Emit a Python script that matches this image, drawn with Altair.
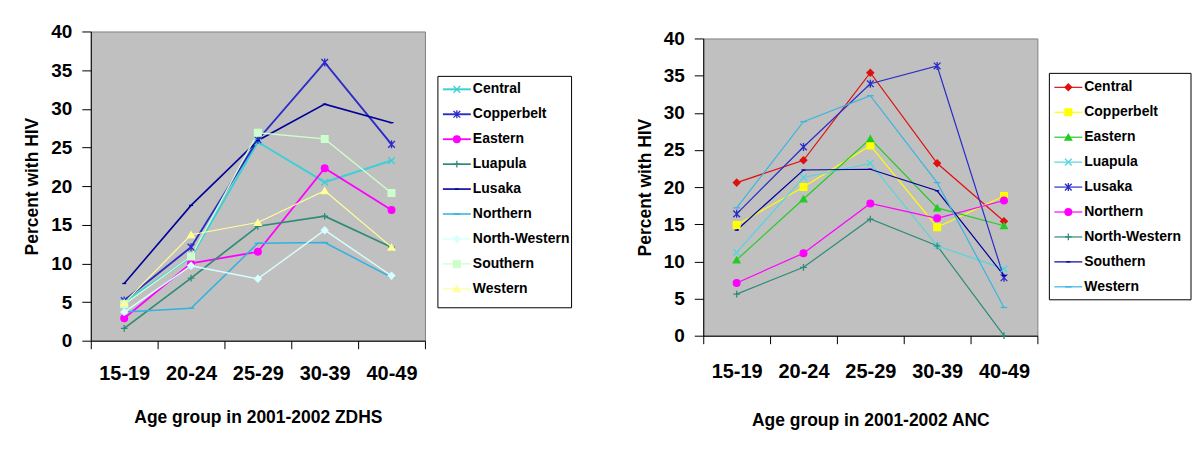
import altair as alt
import pandas as pd

FONT = "Liberation Sans"

ages = ["15-19", "20-24", "25-29", "30-39", "40-49"]
regions = ["Central", "Copperbelt", "Eastern", "Luapula", "Lusaka",
           "Northern", "North-Western", "Southern", "Western"]

# 2001-2002 ZDHS (left panel)
zdhs_central = [5.0, 10.8, 25.7, 20.5, 23.3]
zdhs_copperbelt = [5.2, 12.1, 26.0, 36.0, 25.4]
zdhs_eastern = [2.9, 10.0, 11.5, 22.3, 16.9]
zdhs_luapula = [1.6, 8.1, 14.8, 16.1, 12.1]
zdhs_lusaka = [7.4, 17.5, 25.9, 30.6, 28.2]
zdhs_northern = [3.7, 4.2, 12.6, 12.7, 8.2]
zdhs_northwestern = [3.7, 9.7, 8.0, 14.3, 8.4]
zdhs_southern = [4.7, 10.9, 26.9, 26.1, 19.1]
zdhs_western = [4.9, 13.7, 15.3, 19.4, 12.1]

# 2001-2002 ANC (right panel)
anc_central = [20.6, 23.6, 35.4, 23.2, 15.4]
anc_copperbelt = [14.9, 20.0, 25.6, 14.6, 18.8]
anc_eastern = [10.2, 18.4, 26.5, 17.2, 14.8]
anc_luapula = [11.2, 21.3, 23.2, 12.1, 9.0]
anc_lusaka = [16.4, 25.4, 33.9, 36.3, 7.8]
anc_northern = [7.1, 11.1, 17.8, 15.8, 18.2]
anc_northwestern = [5.6, 9.2, 15.7, 12.1, 0.0]
anc_southern = [14.2, 22.3, 22.4, 19.5, 8.1]
anc_western = [17.2, 28.8, 32.3, 20.6, 3.8]

# marker shapes
X = "M-1,-1L1,1M-1,1L1,-1"
AST = "M-1,-1L1,1M-1,1L1,-1M0,-1.2L0,1.2"
PLUS = "M-1,0L1,0M0,-1L0,1"
DASH_S = "M-0.6,0L0.6,0"
DASH_L = "M-1,0L1,0"

left_colors = ["#3CCFD6", "#2B2BC8", "#FF00FF", "#2E8B78", "#000099",
               "#2FB2E0", "#D8FFFF", "#CCFFCC", "#FFFF99"]
left_shapes = [X, AST, "circle", PLUS, DASH_S, DASH_L, "diamond", "square", "triangle-up"]
left_widths = [2, 1.2, 1.2, 1.2, 1.2, 2, 1.2, 1.2, 1.2]

right_colors = ["#E01010", "#FFFF00", "#22CC22", "#55D5DD", "#2B2BC8",
                "#FF00FF", "#2E8B78", "#000099", "#3AB4E0"]
right_shapes = ["diamond", "square", "triangle-up", X, AST, "circle", PLUS, DASH_S, DASH_L]
right_widths = [1.2, 1.2, 1.2, 2, 1.2, 1.2, 1.2, 1.2, 2]


def panel(series, xtitle, colors, shapes, widths, height, leg_box, leg_range, leg_x,
          xlab_pad, xtitle_pad):
    rows = []
    for r, vals in zip(regions, series):
        for a, v in zip(ages, vals):
            rows.append({"Region": r, "Age": a, "Percent": v})
    df = pd.DataFrame(rows)
    leg = pd.DataFrame({"Region": regions})

    stroke = alt.Stroke("Region:N", scale=alt.Scale(domain=regions, range=colors), legend=None)
    fill = alt.Fill("Region:N", scale=alt.Scale(domain=regions, range=colors), legend=None)
    shape = alt.Shape("Region:N", scale=alt.Scale(domain=regions, range=shapes), legend=None)
    sw = alt.StrokeWidth("Region:N", scale=alt.Scale(domain=regions, range=widths), legend=None)

    x = alt.X("Age:N", sort=ages,
              scale=alt.Scale(type="band", paddingInner=0, paddingOuter=0),
              bandPosition=0.5,
              axis=alt.Axis(title=xtitle, tickBand="extent", labelAngle=0,
                            labelFontSize=20, labelPadding=xlab_pad, tickSize=8,
                            titleFontSize=17.5, titlePadding=xtitle_pad))
    y = alt.Y("Percent:Q", scale=alt.Scale(domain=[0, 40], nice=False),
              axis=alt.Axis(title="Percent with HIV", values=list(range(0, 41, 5)),
                            labelFontSize=19, labelPadding=10, tickSize=9,
                            titleFontSize=17.5, titlePadding=9))

    lines = alt.Chart(df).mark_line().encode(x=x, y=y, stroke=stroke, strokeWidth=sw,
                                             detail="Region:N")
    pts = alt.Chart(df).mark_point(size=45, strokeWidth=1.3, opacity=1, filled=True).encode(
        x=x, y=y, stroke=stroke, fill=fill, shape=shape)
    main = alt.layer(lines, pts)

    ly = alt.Y("Region:N", sort=regions,
               scale=alt.Scale(type="point", domain=regions, range=leg_range, padding=0),
               axis=None)
    box = alt.Chart(leg.head(1)).mark_rect(fill="white", stroke="black", strokeWidth=1).encode(
        x=alt.value(leg_box[0]), x2=alt.value(leg_box[1]),
        y=alt.value(leg_box[2]), y2=alt.value(leg_box[3]))
    lrule = alt.Chart(leg).mark_rule().encode(
        x=alt.value(leg_x[0]), x2=alt.value(leg_x[1]), y=ly, stroke=stroke, strokeWidth=sw)
    lpts = alt.Chart(leg).mark_point(size=45, strokeWidth=1.3, opacity=1, filled=True).encode(
        x=alt.value((leg_x[0] + leg_x[1]) / 2), y=ly, stroke=stroke, fill=fill, shape=shape)
    ltxt = alt.Chart(leg).mark_text(align="left", baseline="middle", fontSize=14,
                                    fontWeight="bold", font=FONT, color="black").encode(
        x=alt.value(leg_x[1] + 2), y=ly, text="Region:N")
    legend = alt.layer(box, lrule, lpts, ltxt)

    return alt.layer(main, legend).resolve_scale(y="independent").properties(
        width=335, height=height)


left = panel([zdhs_central, zdhs_copperbelt, zdhs_eastern, zdhs_luapula, zdhs_lusaka,
              zdhs_northern, zdhs_northwestern, zdhs_southern, zdhs_western],
             "Age group in 2001-2002 ZDHS", left_colors, left_shapes, left_widths,
             310, [348, 482, 45, 277], [58, 258], [353, 381], 15, 25)

right = panel([anc_central, anc_copperbelt, anc_eastern, anc_luapula, anc_lusaka,
               anc_northern, anc_northwestern, anc_southern, anc_western],
              "Age group in 2001-2002 ANC", right_colors, right_shapes, right_widths,
              298, [347, 489, 35, 262], [49, 249], [352, 380], 18, 30)

# empty, invisible strip that lowers the right panel a little, as in the original
spacer = alt.Chart(pd.DataFrame({"Region": [regions[0]]})).mark_text(text="").properties(
    width=335, height=1,
    view=alt.ViewBackground(fill="transparent", stroke="transparent"))

right_col = alt.vconcat(spacer, right, spacing=-9)

chart = alt.hconcat(left, right_col, spacing=63).resolve_scale(
    stroke="independent", fill="independent", shape="independent", strokeWidth="independent"
).properties(
    padding={"left": 15, "top": 13, "right": 0, "bottom": 0},
    background="white"
).configure_view(
    fill="#C0C0C0", stroke="#808080", strokeWidth=1
).configure_axis(
    labelFont=FONT, titleFont=FONT, labelFontWeight="bold", titleFontWeight="bold",
    labelColor="black", titleColor="black", domainColor="black", tickColor="black",
    domainWidth=1, tickWidth=1, grid=False
)

chart.save("out.html", embed_options={"renderer": "svg", "actions": False})
